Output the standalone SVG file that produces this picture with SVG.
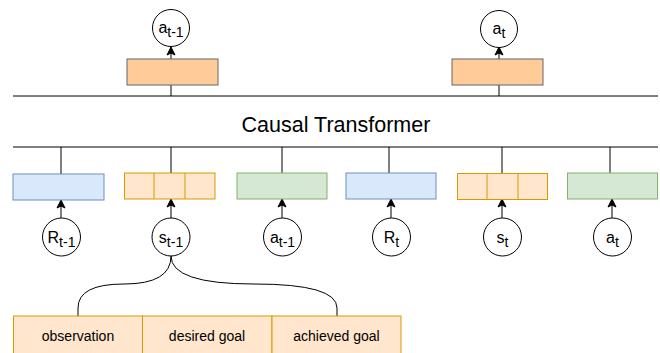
<svg xmlns="http://www.w3.org/2000/svg" width="660" height="353" viewBox="0 0 660 353">
<style>
text{font-family:"Liberation Sans",Arial,Helvetica,sans-serif;fill:#000}
.c{fill:#fff;stroke:#000;stroke-width:1}
.ln{fill:none;stroke:#000;stroke-width:1}
.out{fill:#ffcc99;stroke:#666;stroke-width:1}
.bl{fill:#dae8fc;stroke:#6c8ebf;stroke-width:1}
.or{fill:#ffe6cc;stroke:#d79b00;stroke-width:1}
.gr{fill:#d5e8d4;stroke:#82b366;stroke-width:1}
.lbl{font-size:16px;text-anchor:middle}
.sm{font-size:14px}
.bt{font-size:14px;text-anchor:middle}
</style>
<defs>
<marker id="ah" markerWidth="10" markerHeight="10" refX="9" refY="5" orient="auto" markerUnits="userSpaceOnUse">
<path d="M1,1 L9,5 L1,9 L3,5 Z" fill="#000" stroke="#000" stroke-width="1"/>
</marker>
</defs>

<g id="connectors">
<line class="ln" x1="13" y1="96" x2="658" y2="96"/>
<line class="ln" x1="13" y1="147" x2="658" y2="147"/>
<line class="ln" x1="171" y1="85" x2="171" y2="96"/>
<line class="ln" x1="499" y1="85" x2="499" y2="96"/>
<line class="ln" x1="171" y1="59" x2="171" y2="47" marker-end="url(#ah)"/>
<line class="ln" x1="499" y1="59" x2="499" y2="47" marker-end="url(#ah)"/>
<line class="ln" x1="61" y1="147" x2="61" y2="174"/>
<line class="ln" x1="171" y1="147" x2="171" y2="173"/>
<line class="ln" x1="282" y1="147" x2="282" y2="173"/>
<line class="ln" x1="389" y1="147" x2="389" y2="173"/>
<line class="ln" x1="502" y1="147" x2="502" y2="173"/>
<line class="ln" x1="610" y1="147" x2="610" y2="173"/>
<line class="ln" x1="61" y1="218" x2="61" y2="200" marker-end="url(#ah)"/>
<line class="ln" x1="171" y1="218" x2="171" y2="199" marker-end="url(#ah)"/>
<line class="ln" x1="282" y1="218" x2="282" y2="199" marker-end="url(#ah)"/>
<line class="ln" x1="391" y1="218" x2="391" y2="199" marker-end="url(#ah)"/>
<line class="ln" x1="502" y1="218" x2="502" y2="199" marker-end="url(#ah)"/>
<line class="ln" x1="612" y1="218" x2="612" y2="199" marker-end="url(#ah)"/>
<path class="ln" d="M171,256 Q171,284 124,284 Q78,284 78,308 V316"/>
<path class="ln" d="M171,256 Q171,284 254,284 Q337,284 337,308 V316"/>
</g>

<g id="out1"><rect class="out" x="127" y="59" width="91" height="26"/></g>
<g id="out2"><rect class="out" x="452" y="59" width="91" height="26"/></g>

<g id="pred_a_tm1"><circle class="c" cx="171" cy="28" r="18.5"/><text class="lbl" x="171" y="33">a<tspan class="sm" dy="4">t-1</tspan></text></g>
<g id="pred_a_t"><circle class="c" cx="499" cy="29" r="18.5"/><text class="lbl" x="499" y="34">a<tspan class="sm" dy="4">t</tspan></text></g>

<g id="transformer"><text x="336" y="131.5" font-size="21.5" text-anchor="middle">Causal Transformer</text></g>

<g id="emb_R_tm1"><rect class="bl" x="13" y="174" width="91" height="26"/></g>
<g id="emb_s_tm1"><rect class="or" x="124.5" y="173" width="90.5" height="26"/><line class="or" x1="154" y1="173" x2="154" y2="199"/><line class="or" x1="185" y1="173" x2="185" y2="199"/></g>
<g id="emb_a_tm1"><rect class="gr" x="237" y="173" width="90" height="26"/></g>
<g id="emb_R_t"><rect class="bl" x="346" y="173" width="90" height="26"/></g>
<g id="emb_s_t"><rect class="or" x="457.5" y="173.5" width="90" height="26"/><line class="or" x1="487" y1="173.5" x2="487" y2="199.5"/><line class="or" x1="518" y1="173.5" x2="518" y2="199.5"/></g>
<g id="emb_a_t"><rect class="gr" x="567.5" y="173" width="90" height="26"/></g>

<g id="R_tm1"><circle class="c" cx="61.5" cy="237" r="19"/><text class="lbl" x="61.5" y="243">R<tspan class="sm" dy="4">t-1</tspan></text></g>
<g id="s_tm1"><circle class="c" cx="171" cy="237" r="19"/><text class="lbl" x="171" y="243">s<tspan class="sm" dy="4">t-1</tspan></text></g>
<g id="a_tm1"><circle class="c" cx="282.5" cy="237" r="19"/><text class="lbl" x="282.5" y="243">a<tspan class="sm" dy="4">t-1</tspan></text></g>
<g id="R_t"><circle class="c" cx="391.5" cy="237" r="19"/><text class="lbl" x="391.5" y="243">R<tspan class="sm" dy="4">t</tspan></text></g>
<g id="s_t"><circle class="c" cx="502.5" cy="237" r="19"/><text class="lbl" x="502.5" y="243">s<tspan class="sm" dy="4">t</tspan></text></g>
<g id="a_t"><circle class="c" cx="612.5" cy="237" r="19"/><text class="lbl" x="612.5" y="243">a<tspan class="sm" dy="4">t</tspan></text></g>

<g id="observation"><rect class="or" x="13.5" y="316" width="129" height="42"/><text class="bt" x="78" y="341">observation</text></g>
<g id="desired_goal"><rect class="or" x="142.5" y="316" width="129.5" height="42"/><text class="bt" x="207" y="341">desired goal</text></g>
<g id="achieved_goal"><rect class="or" x="272" y="316" width="129" height="42"/><text class="bt" x="336.5" y="341">achieved goal</text></g>
</svg>
